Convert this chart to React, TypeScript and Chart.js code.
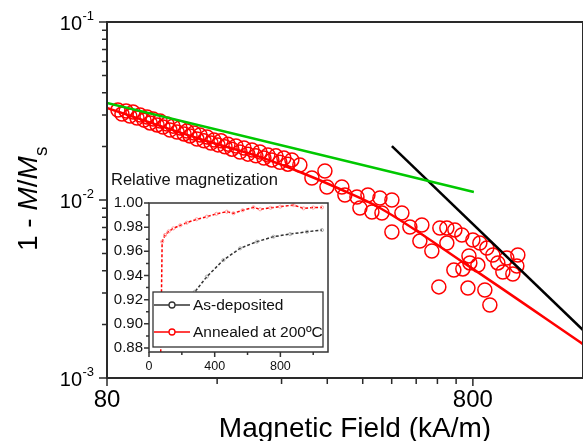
import React, { useEffect, useRef } from 'react';
import { Chart, registerables } from 'chart.js';

Chart.register(...registerables);

const FONT = '"Liberation Sans", Arial, Helvetica, sans-serif';

// ---------- Main chart: 1 - M/Ms vs magnetic field (kA/m) ----------
const FIELD = [
  85.7, 87.9, 90.2, 92.4, 94.2, 96.6, 98.5, 101.0, 102.9, 104.9, 106.9, 109.6, 111.7, 113.8, 116.7,
  118.9, 121.2, 124.3, 126.6, 129.9, 132.3, 134.9, 138.3, 140.9, 143.6, 147.3, 150.1, 153.9, 156.8,
  160.8, 163.9, 168.1, 171.3, 175.6, 180.1, 184.7, 189.4, 194.2, 199.2, 204.2, 209.4, 214.8, 220.2,
  225.8, 231.6, 237.5, 243.5, 249.7, 256.1,
  269.3, 290.5, 315.3, 319.3, 350.8, 357.5, 385.7, 393.0, 413.3, 423.8, 445.7, 451.4, 480.6, 511.8,
  480.6, 538.2, 580.4, 573.1, 618.0, 649.9, 679.2, 714.3, 679.2, 746.4, 800, 836.0, 873.6, 907.2,
  780.5, 785.0, 825.6, 936.2, 990.8, 1061.8, 1055.1, 966.2, 1028.9, 709.8, 751.1, 645.8, 775.6,
  862.7, 890.3,
];
const ONE_MINUS_M = [
  0.0320, 0.0304, 0.0316, 0.0296, 0.0312, 0.0289, 0.0300, 0.0281, 0.0293, 0.0271, 0.0285, 0.0264,
  0.0278, 0.0257, 0.0267, 0.0247, 0.0260, 0.0241, 0.0254, 0.0235, 0.0244, 0.0229, 0.0238, 0.0220,
  0.0232, 0.0215, 0.0226, 0.0209, 0.0217, 0.0204, 0.0215, 0.0199, 0.0206, 0.0193, 0.0201, 0.0186,
  0.0196, 0.0181, 0.0191, 0.0177, 0.0186, 0.0172, 0.0179, 0.0168, 0.0177, 0.0163, 0.0172, 0.0159,
  0.0168,
  0.01572, 0.01329, 0.01455, 0.01183, 0.01183, 0.01067, 0.01039, 0.00902, 0.01067, 0.00856, 0.01026,
  0.00845, 0.0100, 0.00845, 0.00661, 0.00705, 0.00724, 0.00588, 0.00517, 0.00696, 0.00696, 0.00679,
  0.00573, 0.00636, 0.00596, 0.00573, 0.00537, 0.00491, 0.00485, 0.00443, 0.00431, 0.00443, 0.00472,
  0.00491, 0.00426, 0.00394, 0.00384, 0.00404, 0.00410, 0.00325, 0.00320, 0.00312, 0.00257,
];

const GREEN_FIELD = [80, 805];
const GREEN_VALUE = [0.0351, 0.01109];
const BLACK_FIELD = [480.6, 1600];
const BLACK_VALUE = [0.0201, 0.00186];
const FIT_FIELD = [80, 143.6, 209.4, 269.3, 346.4, 445.7, 785, 1600];
const FIT_VALUE = [0.0329, 0.022, 0.01746, 0.01436, 0.01153, 0.00902, 0.00421, 0.00155];

const X_MIN = 80;
const X_MAX = 1600;
const Y_MIN = 0.001;
const Y_MAX = 0.1;
const X_MAJOR = [80, 800];
const X_MAJOR_LABELS = ['80', '800'];
const X_MINOR = [160, 240, 320, 400, 480, 560, 640, 720];
const Y_MAJOR = [0.1, 0.01, 0.001];
const Y_MAJOR_EXP = ['-1', '-2', '-3'];
const Y_MINOR = [0.09, 0.08, 0.07, 0.06, 0.05, 0.04, 0.03, 0.02, 0.009, 0.008, 0.007, 0.006, 0.005, 0.004, 0.003, 0.002];

// ---------- Inset: relative magnetization vs field ----------
const ANNEALED_FIELD = [70, 80, 98, 120, 148, 190, 230, 290, 352, 410, 474, 514, 570, 636, 677, 740, 799, 880, 941, 1000, 1053];
const ANNEALED_M = [0.86, 0.968, 0.9735, 0.9765, 0.979, 0.9815, 0.9837, 0.9865, 0.9887, 0.991, 0.9928, 0.9915, 0.994, 0.9964, 0.9948, 0.996, 0.997, 0.9983, 0.9956, 0.9962, 0.9964];
const DEPOSITED_FIELD = [200, 250, 280, 352, 453, 555, 657, 758, 860, 962, 1053];
const DEPOSITED_M = [0.915, 0.9235, 0.9266, 0.939, 0.9528, 0.9625, 0.968, 0.9721, 0.9743, 0.9762, 0.9776];
const INSET_X_MAJOR = [0, 400, 800];
const INSET_X_MINOR = [200, 600, 1000];
const INSET_Y_MAJOR = [0.88, 0.9, 0.92, 0.94, 0.96, 0.98, 1.0];
const INSET_Y_MINOR = [0.89, 0.91, 0.93, 0.95, 0.97, 0.99];
const INSET_TITLE = 'Relative magnetization';
const LEGEND_LABELS = ['As-deposited', 'Annealed at 200ºC'];

const pts = (xs: number[], ys: number[]) => xs.map((x, i) => ({ x, y: ys[i] }));

const mainDecor = {
  id: 'mainDecor',
  afterDatasetsDraw(chart: any) {
    const { ctx, chartArea: a } = chart;
    const xs = chart.scales.x;
    const ys = chart.scales.y;
    ctx.save();
    ctx.strokeStyle = '#2a2a2a';
    ctx.lineWidth = 2;
    ctx.strokeRect(a.left, a.top, a.right - a.left, a.bottom - a.top);

    ctx.lineWidth = 1.5;
    ctx.beginPath();
    Y_MAJOR.forEach((v) => {
      const p = ys.getPixelForValue(v);
      ctx.moveTo(a.left - 8, p);
      ctx.lineTo(a.left, p);
    });
    Y_MINOR.forEach((v) => {
      const p = ys.getPixelForValue(v);
      ctx.moveTo(a.left - 5, p);
      ctx.lineTo(a.left, p);
    });
    X_MAJOR.forEach((v) => {
      const p = xs.getPixelForValue(v);
      ctx.moveTo(p, a.bottom);
      ctx.lineTo(p, a.bottom + 8);
    });
    X_MINOR.forEach((v) => {
      const p = xs.getPixelForValue(v);
      ctx.moveTo(p, a.bottom);
      ctx.lineTo(p, a.bottom + 6);
    });
    ctx.stroke();

    ctx.fillStyle = '#000';
    Y_MAJOR.forEach((v, i) => {
      const p = ys.getPixelForValue(v);
      ctx.font = `20px ${FONT}`;
      ctx.textAlign = 'right';
      ctx.textBaseline = 'alphabetic';
      ctx.fillText('10', a.left - 25, p + 8);
      ctx.font = `13px ${FONT}`;
      ctx.textAlign = 'left';
      ctx.fillText(Y_MAJOR_EXP[i], a.left - 24.5, p - 2);
    });
    ctx.font = `24px ${FONT}`;
    ctx.textAlign = 'center';
    ctx.textBaseline = 'alphabetic';
    X_MAJOR.forEach((v, i) => {
      ctx.fillText(X_MAJOR_LABELS[i], xs.getPixelForValue(v), a.bottom + 29);
    });
    ctx.font = `28px ${FONT}`;
    ctx.fillText('Magnetic Field (kA/m)', 355, 437);

    ctx.save();
    ctx.translate(37, 251);
    ctx.rotate(-Math.PI / 2);
    ctx.textAlign = 'left';
    const parts: [string, string, number][] = [
      ['1 - ', `28px ${FONT}`, 0],
      ['M', `italic 28px ${FONT}`, 0],
      ['/', `28px ${FONT}`, 0],
      ['M', `italic 28px ${FONT}`, 0],
      ['s', `19px ${FONT}`, 10],
    ];
    let cx = 0;
    parts.forEach(([t, f, dy]) => {
      ctx.font = f;
      ctx.fillText(t, cx, dy);
      cx += ctx.measureText(t).width;
    });
    ctx.restore();
    ctx.restore();
  },
};

const insetDecor = {
  id: 'insetDecor',
  afterDatasetsDraw(chart: any) {
    const { ctx, chartArea: a } = chart;
    const xs = chart.scales.x;
    const ys = chart.scales.y;
    ctx.save();
    ctx.strokeStyle = '#333';
    ctx.lineWidth = 1.5;
    ctx.strokeRect(a.left, a.top, a.right - a.left, a.bottom - a.top);
    ctx.beginPath();
    INSET_Y_MAJOR.forEach((v) => {
      const p = ys.getPixelForValue(v);
      ctx.moveTo(a.left - 5, p);
      ctx.lineTo(a.left, p);
    });
    INSET_Y_MINOR.forEach((v) => {
      const p = ys.getPixelForValue(v);
      ctx.moveTo(a.left - 3, p);
      ctx.lineTo(a.left, p);
    });
    INSET_X_MAJOR.forEach((v) => {
      const p = xs.getPixelForValue(v);
      ctx.moveTo(p, a.bottom);
      ctx.lineTo(p, a.bottom + 5);
    });
    INSET_X_MINOR.forEach((v) => {
      const p = xs.getPixelForValue(v);
      ctx.moveTo(p, a.bottom);
      ctx.lineTo(p, a.bottom + 3);
    });
    ctx.stroke();

    ctx.fillStyle = '#111';
    ctx.font = `15px ${FONT}`;
    ctx.textAlign = 'right';
    ctx.textBaseline = 'middle';
    INSET_Y_MAJOR.forEach((v) => {
      ctx.fillText(v.toFixed(2), a.left - 6, ys.getPixelForValue(v));
    });
    ctx.font = `12.5px ${FONT}`;
    ctx.textAlign = 'center';
    ctx.textBaseline = 'top';
    INSET_X_MAJOR.forEach((v) => {
      ctx.fillText(String(v), xs.getPixelForValue(v), a.bottom + 8);
    });

    const lx = a.left + 4;
    const ly = a.top + 89;
    const lw = 170;
    const lh = 55;
    ctx.fillStyle = '#fff';
    ctx.fillRect(lx, ly, lw, lh);
    ctx.strokeStyle = '#333';
    ctx.lineWidth = 1.3;
    ctx.strokeRect(lx, ly, lw, lh);
    const colors = ['#333', '#ff0000'];
    LEGEND_LABELS.forEach((label, i) => {
      const y = ly + 13 + i * 27;
      ctx.strokeStyle = colors[i];
      ctx.lineWidth = 1.3;
      ctx.beginPath();
      ctx.moveTo(lx + 1, y);
      ctx.lineTo(lx + 37, y);
      ctx.stroke();
      ctx.fillStyle = '#fff';
      ctx.beginPath();
      ctx.arc(lx + 19, y, 3, 0, Math.PI * 2);
      ctx.fill();
      ctx.stroke();
      ctx.fillStyle = '#111';
      ctx.font = `15.5px ${FONT}`;
      ctx.textAlign = 'left';
      ctx.textBaseline = 'middle';
      ctx.fillText(label, lx + 40, y + 1);
    });

    ctx.fillStyle = '#111';
    ctx.font = `16.5px ${FONT}`;
    ctx.textAlign = 'left';
    ctx.textBaseline = 'alphabetic';
    ctx.fillText(INSET_TITLE, 11, 20);
    ctx.restore();
  },
};

export default function App() {
  const mainRef = useRef<HTMLCanvasElement | null>(null);
  const insetRef = useRef<HTMLCanvasElement | null>(null);

  useEffect(() => {
    if (!mainRef.current || !insetRef.current) return;
    const main = new Chart(mainRef.current, {
      type: 'scatter',
      data: {
        datasets: [
          {
            data: pts(FIT_FIELD, FIT_VALUE),
            showLine: true,
            borderColor: '#ff0000',
            borderWidth: 2.5,
            pointRadius: 0,
            cubicInterpolationMode: 'monotone',
            order: 1,
          },
          {
            data: pts(GREEN_FIELD, GREEN_VALUE),
            showLine: true,
            borderColor: '#00c800',
            borderWidth: 2.5,
            pointRadius: 0,
            order: 2,
          },
          {
            data: pts(BLACK_FIELD, BLACK_VALUE),
            showLine: true,
            borderColor: '#000',
            borderWidth: 2.5,
            pointRadius: 0,
            order: 3,
          },
          {
            data: pts(FIELD, ONE_MINUS_M),
            showLine: false,
            pointStyle: 'circle',
            pointRadius: 7,
            pointBorderWidth: 1.5,
            pointBorderColor: '#ff0000',
            pointBackgroundColor: 'rgba(255,255,255,0)',
            order: 4,
          },
        ],
      } as any,
      options: {
        responsive: false,
        animation: false,
        events: [],
        layout: { autoPadding: false, padding: { left: 107, top: 22, right: 0, bottom: 63 } },
        plugins: { legend: { display: false }, tooltip: { enabled: false } },
        scales: {
          x: { type: 'logarithmic', min: X_MIN, max: X_MAX, display: false },
          y: { type: 'logarithmic', min: Y_MIN, max: Y_MAX, display: false },
        },
      } as any,
      plugins: [mainDecor],
    });

    const inset = new Chart(insetRef.current, {
      type: 'scatter',
      data: {
        datasets: [
          {
            data: pts(DEPOSITED_FIELD, DEPOSITED_M),
            showLine: true,
            borderColor: '#333',
            borderWidth: 1.5,
            borderDash: [3, 2],
            pointRadius: 1.6,
            pointBorderWidth: 1,
            pointBorderColor: 'rgba(150,150,150,0.7)',
            pointBackgroundColor: 'rgba(255,255,255,0)',
          },
          {
            data: pts(ANNEALED_FIELD, ANNEALED_M),
            showLine: true,
            borderColor: '#ff0000',
            borderWidth: 1.5,
            borderDash: [3, 2],
            pointRadius: 1.6,
            pointBorderWidth: 1,
            pointBorderColor: 'rgba(255,140,140,0.8)',
            pointBackgroundColor: 'rgba(255,255,255,0)',
          },
        ],
      } as any,
      options: {
        responsive: false,
        animation: false,
        events: [],
        layout: { autoPadding: false, padding: { left: 49, top: 38, right: 7, bottom: 28 } },
        plugins: { legend: { display: false }, tooltip: { enabled: false } },
        scales: {
          x: { type: 'linear', min: 0, max: 1090, display: false },
          y: { type: 'linear', min: 0.8767, max: 1.0, display: false },
        },
      } as any,
      plugins: [insetDecor],
    });

    return () => {
      main.destroy();
      inset.destroy();
    };
  }, []);

  return (
    <div style={{ position: 'absolute', left: 0, top: 0, width: 583, height: 441, background: '#fff' }}>
      <canvas ref={mainRef} width={583} height={441} style={{ position: 'absolute', left: 0, top: 0 }} />
      <canvas ref={insetRef} width={235} height={215} style={{ position: 'absolute', left: 100, top: 165 }} />
    </div>
  );
}
